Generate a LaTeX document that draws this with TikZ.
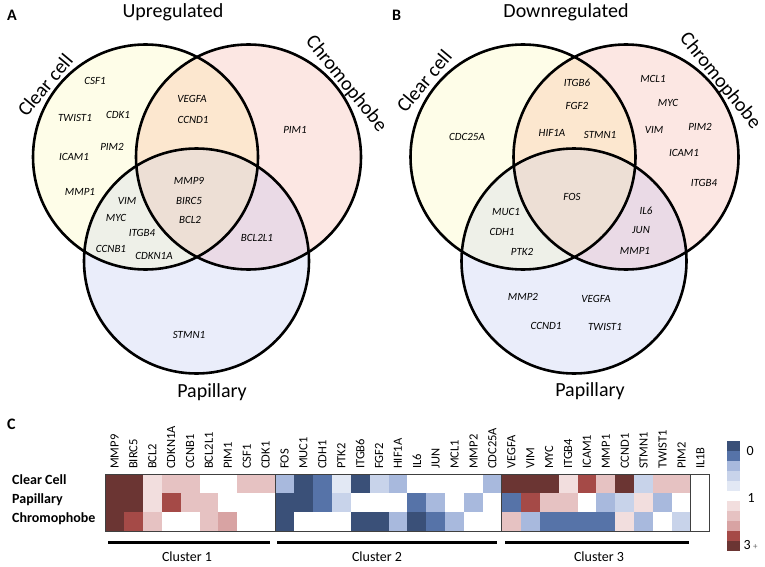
\documentclass[tikz,border=0pt]{standalone}
\usepackage{fontspec}
\setmainfont{Carlito}
\definecolor{hb5}{HTML}{3A5078}
\definecolor{hb4}{HTML}{5673A8}
\definecolor{hb3}{HTML}{A8B9DD}
\definecolor{hb2}{HTML}{C8D3EA}
\definecolor{hb1}{HTML}{E2E8F4}
\definecolor{hw}{HTML}{FFFFFF}
\definecolor{hr1}{HTML}{F2DEDE}
\definecolor{hr2}{HTML}{E6C2C2}
\definecolor{hr3}{HTML}{D8A3A3}
\definecolor{hr4}{HTML}{A54A47}
\definecolor{hr5}{HTML}{6B3533}
\definecolor{cyel}{HTML}{FEFDE8}
\definecolor{cpink}{HTML}{FCE7E3}
\definecolor{cblue}{HTML}{EAEDFA}
\definecolor{cpeach}{HTML}{FCE7CF}
\definecolor{cgreen}{HTML}{EEF0E8}
\definecolor{cmauve}{HTML}{EADAE6}
\definecolor{ctriple}{HTML}{EDDFD5}
\newcommand{\drawvenn}{%
  \fill[cyel] (145.5,157) circle[radius=112.5pt];
  \fill[cpink] (248.5,157) circle[radius=112.5pt];
  \fill[cblue] (196.5,261) circle[radius=112.5pt];
  \begin{scope}
    \clip (145.5,157) circle[radius=112.5pt];
    \fill[cpeach] (248.5,157) circle[radius=112.5pt];
    \fill[cgreen] (196.5,261) circle[radius=112.5pt];
  \end{scope}
  \begin{scope}
    \clip (248.5,157) circle[radius=112.5pt];
    \fill[cmauve] (196.5,261) circle[radius=112.5pt];
  \end{scope}
  \begin{scope}
    \clip (145.5,157) circle[radius=112.5pt];
    \clip (248.5,157) circle[radius=112.5pt];
    \fill[ctriple] (196.5,261) circle[radius=112.5pt];
  \end{scope}
  \draw[vline] (145.5,157) circle[radius=112.5pt];
  \draw[vline] (248.5,157) circle[radius=112.5pt];
  \draw[vline] (196.5,261) circle[radius=112.5pt];
}
\begin{document}
\begin{tikzpicture}[x=1pt,y=-1pt,
  vline/.style={line width=2.6pt,black},
  gene/.style={font=\fontsize{11}{13}\selectfont\itshape,inner sep=0pt,text=black},
  title/.style={font=\fontsize{20}{24}\selectfont,inner sep=0pt,anchor=base},
  setlab/.style={font=\fontsize{20}{24}\selectfont,inner sep=0pt},
  panel/.style={font=\fontsize{16}{18}\selectfont\bfseries,inner sep=0pt,anchor=base west},
  collab/.style={rotate=90,anchor=west,font=\fontsize{12.5}{14}\selectfont,inner sep=0pt},
  rowlab/.style={anchor=base west,font=\fontsize{14}{16}\selectfont\bfseries,inner sep=0pt},
  clus/.style={anchor=base,font=\fontsize{14}{16}\selectfont,inner sep=0pt},
  cbar/.style={line width=3pt,black},
  leglab/.style={anchor=west,font=\fontsize{14}{16}\selectfont,inner sep=0pt}]
\useasboundingbox (0,0) rectangle (765,567);
\fill[white] (0,0) rectangle (765,567);

% ---------- Panel A ----------
\node[panel] (pA) at (7,21) {A};
\node[title] (tA) at (173,17.5) {Upregulated};
\drawvenn
\node[setlab,rotate=50] (aCC) at (45,85) {Clear cell};
\node[setlab,rotate=-51] (aCH) at (346,84) {Chromophobe};
\node[title] (aPA) at (212,397) {Papillary};
\node[gene] (aCSF1) at (95,81) {CSF1};
\node[gene] (aTWIST1) at (75,118) {TWIST1};
\node[gene] (aCDK1) at (118,115) {CDK1};
\node[gene] (aICAM1) at (74,157) {ICAM1};
\node[gene] (aPIM2) at (112,147) {PIM2};
\node[gene] (aMMP1) at (80,192) {MMP1};
\node[gene] (aVEGFA) at (192,99) {VEGFA};
\node[gene] (aCCND1) at (193,120) {CCND1};
\node[gene] (aPIM1) at (295,130) {PIM1};
\node[gene] (aMMP9) at (189,181) {MMP9};
\node[gene] (aBIRC5) at (189,201) {BIRC5};
\node[gene] (aBCL2) at (190,220) {BCL2};
\node[gene] (aVIM) at (127,201) {VIM};
\node[gene] (aMYC) at (116,218) {MYC};
\node[gene] (aITGB4) at (142,233) {ITGB4};
\node[gene] (aCCNB1) at (111,249) {CCNB1};
\node[gene] (aCDKN1A) at (154,256) {CDKN1A};
\node[gene] (aBCL2L1) at (257,238) {BCL2L1};
\node[gene] (aSTMN1) at (189,335) {STMN1};

% ---------- Panel B ----------
\node[panel] (pB) at (392,21) {B};
\node[title] (tB) at (566,17.5) {Downregulated};
\begin{scope}[shift={(377.5,0)}]
\drawvenn
\end{scope}
\node[setlab,rotate=50] (bCC) at (424,81) {Clear cell};
\node[setlab,rotate=-51] (bCH) at (720,81) {Chromophobe};
\node[title] (bPA) at (590,396) {Papillary};
\node[gene] (bCDC25A) at (467,137) {CDC25A};
\node[gene] (bITGB6) at (577,83) {ITGB6};
\node[gene] (bFGF2) at (577,106) {FGF2};
\node[gene] (bHIF1A) at (552,133) {HIF1A};
\node[gene] (bSTMN1) at (600,135) {STMN1};
\node[gene] (bMCL1) at (653,79) {MCL1};
\node[gene] (bMYC) at (668,103) {MYC};
\node[gene] (bVIM) at (654,130) {VIM};
\node[gene] (bPIM2) at (700,127) {PIM2};
\node[gene] (bICAM1) at (684,153) {ICAM1};
\node[gene] (bITGB4) at (704,183) {ITGB4};
\node[gene] (bFOS) at (572,197) {FOS};
\node[gene] (bMUC1) at (506,212) {MUC1};
\node[gene] (bCDH1) at (502,232) {CDH1};
\node[gene] (bPTK2) at (522,252) {PTK2};
\node[gene] (bIL6) at (646,211) {IL6};
\node[gene] (bJUN) at (641,230) {JUN};
\node[gene] (bMMP1) at (635,251) {MMP1};
\node[gene] (bMMP2) at (523,297) {MMP2};
\node[gene] (bVEGFA) at (596,299) {VEGFA};
\node[gene] (bCCND1) at (546,326) {CCND1};
\node[gene] (bTWIST1) at (605,327) {TWIST1};

% ---------- Panel C ----------
\node[panel] (pC) at (7,429) {C};
\foreach \c [count=\i from 0] in {hr5,hr5,hr1,hr2,hr2,hw,hw,hr2,hr2,hb3,hb5,hb4,hb1,hb5,hb2,hb3,hw,hw,hw,hw,hb3,hr5,hr5,hr5,hr1,hr4,hr2,hr5,hb2,hr2,hr2,hw}
  \fill[\c] (105+18.9*\i,474.3) rectangle ++(18.9,18.9);
\foreach \c [count=\i from 0] in {hr5,hr5,hr1,hr4,hr2,hr2,hw,hw,hw,hb5,hb5,hb4,hb2,hw,hw,hw,hb4,hb3,hw,hb3,hw,hb4,hr4,hr2,hr2,hw,hb3,hb2,hr1,hb3,hw,hw}
  \fill[\c] (105+18.9*\i,493.2) rectangle ++(18.9,18.9);
\foreach \c [count=\i from 0] in {hr5,hr4,hr2,hw,hw,hr2,hr3,hw,hw,hb5,hw,hw,hw,hb5,hb5,hb3,hb5,hb4,hb3,hw,hw,hr2,hb3,hb4,hb4,hb4,hb4,hr1,hb3,hw,hb2,hw}
  \fill[\c] (105+18.9*\i,512.1) rectangle ++(18.9,18.9);
\draw[black!75,line width=0.9pt] (105,474.3) rectangle (709.8,531);
\foreach \xx in {275.1,501.9,690.9}
  \draw[black!75,line width=0.9pt] (\xx,474.3) -- (\xx,531);
\foreach \g [count=\i from 0] in {MMP9,BIRC5,BCL2,CDKN1A,CCNB1,BCL2L1,PIM1,CSF1,CDK1,FOS,MUC1,CDH1,PTK2,ITGB6,FGF2,HIF1A,IL6,JUN,MCL1,MMP2,CDC25A,VEGFA,VIM,MYC,ITGB4,ICAM1,MMP1,CCND1,STMN1,TWIST1,PIM2,IL1B}
  \node[collab] (col\i) at (114.45+18.9*\i,469) {\g};
\node[rowlab] (rCC) at (12,484.3) {Clear Cell};
\node[rowlab] (rPA) at (12,503.3) {Papillary};
\node[rowlab] (rCH) at (12,522.3) {Chromophobe};
\draw[cbar] (108,542) -- (270,542);
\draw[cbar] (277,542) -- (497,542);
\draw[cbar] (505,542) -- (689,542);
\node[clus] (k1) at (187,561.5) {Cluster 1};
\node[clus] (k2) at (377,561.5) {Cluster 2};
\node[clus] (k3) at (599,561.5) {Cluster 3};
% legend
\foreach \c [count=\i from 0] in {hb5,hb4,hb3,hb2,hb1,hw,hr1,hr2,hr3,hr4,hr5}
  \fill[\c] (727,440.7+10*\i) rectangle ++(13,10);
\node[leglab] (l0) at (746.5,450.7) {0};
\node[leglab] (l1) at (747.5,498.3) {1};
\node[leglab] (l3) at (743.5,545) {3\,{\fontsize{9}{10}\selectfont\color{black!60}+}};
\end{tikzpicture}
\end{document}
